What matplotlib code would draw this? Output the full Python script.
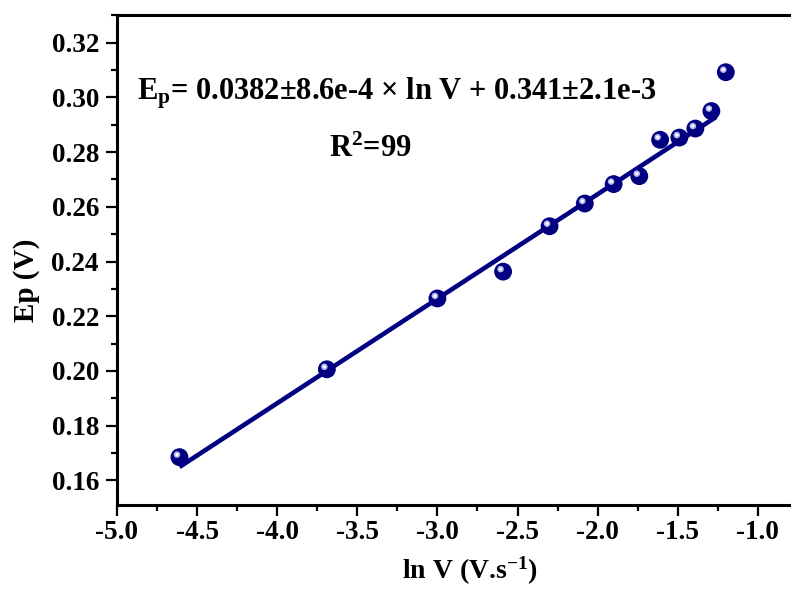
import numpy as np
import matplotlib
matplotlib.use('Agg')
import matplotlib.pyplot as plt
from matplotlib.ticker import MultipleLocator
from matplotlib.transforms import offset_copy

plt.rcParams['font.family'] = ['Liberation Serif', 'DejaVu Serif']
plt.rcParams['font.weight'] = 'bold'
plt.rcParams['mathtext.fontset'] = 'custom'
plt.rcParams['mathtext.rm'] = 'Liberation Serif:bold'
plt.rcParams['mathtext.bf'] = 'Liberation Serif:bold'
plt.rcParams['mathtext.it'] = 'Liberation Serif:bold'
plt.rcParams['axes.unicode_minus'] = False

# Data (ln of scan rate vs peak potential)
ln_v = [-4.61, -3.69, -3.00, -2.59, -2.30, -2.08, -1.90, -1.74, -1.61, -1.49, -1.39, -1.29, -1.20]
ep = [0.1685, 0.2006, 0.2265, 0.2363, 0.2529, 0.2612, 0.2683, 0.2712, 0.2845, 0.2853, 0.2886, 0.2950, 0.3092]

# Linear fit reported on the chart
slope = 0.0382
intercept = 0.341
fit_x = np.array([-4.61, -1.26])
fit_y = slope * fit_x + intercept

navy = '#000080'

fig = plt.figure(figsize=(7.91, 5.91), dpi=100)
ax = fig.add_axes([0.1479, 0.1455, 0.8521, 0.8291])

ax.plot(fit_x, fit_y, color=navy, lw=3.3, solid_capstyle='butt', zorder=2)
ax.scatter(ln_v, ep, s=165, color=navy, edgecolors='none', zorder=3)
# small highlight on each ball
hl = offset_copy(ax.transData, fig=fig, x=-2.5, y=2.5, units='dots')
ax.scatter(ln_v, ep, s=22, color='#b8b8ee', edgecolors='none', zorder=4, transform=hl)
ax.scatter(ln_v, ep, s=5, color='white', edgecolors='none', zorder=5, transform=hl)

ax.set_xlim(-5.0, -0.793)
ax.set_ylim(0.151, 0.3301)

ax.xaxis.set_major_locator(MultipleLocator(0.5))
ax.xaxis.set_minor_locator(MultipleLocator(0.25))
ax.yaxis.set_major_locator(MultipleLocator(0.02))
ax.yaxis.set_minor_locator(MultipleLocator(0.01))
ax.xaxis.set_major_formatter(plt.FormatStrFormatter('%.1f'))
ax.yaxis.set_major_formatter(plt.FormatStrFormatter('%.2f'))

ax.spines['right'].set_visible(False)
for s in ['left', 'bottom', 'top']:
    ax.spines[s].set_linewidth(2.2)

ax.tick_params(which='major', direction='out', length=8, width=1.6, labelsize=19.5)
ax.tick_params(which='minor', direction='out', length=4.5, width=1.6)
ax.tick_params(axis='x', which='major', pad=3)
ax.tick_params(axis='y', which='major', pad=5)
ax.tick_params(top=False, right=False, which='both')

# axis titles
fig.text(0.594, 0.021, 'ln V (V.s$^{-1}$)', ha='center', va='baseline', fontsize=20, fontweight='bold')
fig.text(0.034, 0.526, 'Ep (V)', ha='center', va='center', rotation=90, fontsize=21, fontweight='bold')

# equation
fig.text(0.1732, 0.8308, r'$\mathbf{E_p}$= 0.0382±8.6e-4 × ln V + 0.341±2.1e-3',
         ha='left', va='baseline', fontsize=22, fontweight='bold')
fig.text(0.416, 0.7343, r'R$^{2}$=99', ha='left', va='baseline', fontsize=22, fontweight='bold')

plt.savefig('out.png', dpi=100)
